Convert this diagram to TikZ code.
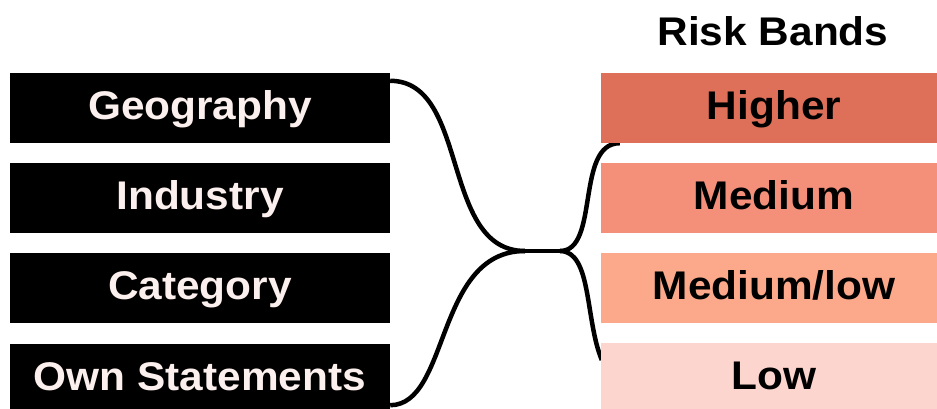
\documentclass[tikz,border=0pt]{standalone}
\usepackage{fontspec}
\newfontfamily\labfont[FakeStretch=1.06]{Liberation Sans}
\usetikzlibrary{calc}
\definecolor{lefttext}{HTML}{FCF0EE}
\definecolor{higher}{HTML}{DE705A}
\definecolor{medium}{HTML}{F4907A}
\definecolor{medlow}{HTML}{FBA98A}
\definecolor{low}{HTML}{FDD5CF}
\pgfdeclarelayer{background}
\pgfsetlayers{background,main}
\tikzset{
  labtext/.style={font=\labfont\bfseries\fontsize{40}{46}\selectfont},
  box/.style={rectangle, inner sep=0pt, minimum height=70pt, text height=29pt, text depth=7pt, labtext},
  leftbox/.style={box, fill=black, text=lefttext, minimum width=380pt},
  rightbox/.style={box, text=black, minimum width=346pt},
  link/.style={draw=black, line width=4.5pt}
}
\begin{document}
\begin{tikzpicture}[x=1pt,y=-1pt]
\useasboundingbox (0,0) rectangle (937,408);
\node[leftbox] (geo) at (200,108) {Geography};
\node[leftbox] (ind) at (200,198) {Industry};
\node[leftbox] (cat) at (200,288) {Category};
\node[leftbox] (own) at (200,379) {Own Statements};
\node[rightbox, fill=higher] (hi) at (774,108) {Higher};
\node[rightbox, fill=medium] (med) at (774,198) {Medium};
\node[rightbox, fill=medlow] (ml) at (774,288) {Medium/low};
\node[rightbox, fill=low] (lo) at (774,378) {Low};
\node[labtext, anchor=base, inner sep=0pt] (title) at (773,45) {Risk Bands};
\coordinate (ja) at (525,251);
\coordinate (jb) at (560,251);
\begin{pgfonlayer}{background}
\draw[link] ($(geo.north east)+(0,8)$) .. controls (470,81) and (440,251) .. (ja);
\draw[link] ($(own.south east)+(0,-9)$) .. controls (450,405) and (435,251) .. (ja);
\draw[link] (ja) -- (jb);
\draw[link] (jb) .. controls (600,251) and (575,143) .. ($(hi.south west)+(19,0)$);
\draw[link] (jb) .. controls (592,251) and (585,320) .. ($(lo.west)+(1,-18)$);
\end{pgfonlayer}
\end{tikzpicture}
\end{document}
